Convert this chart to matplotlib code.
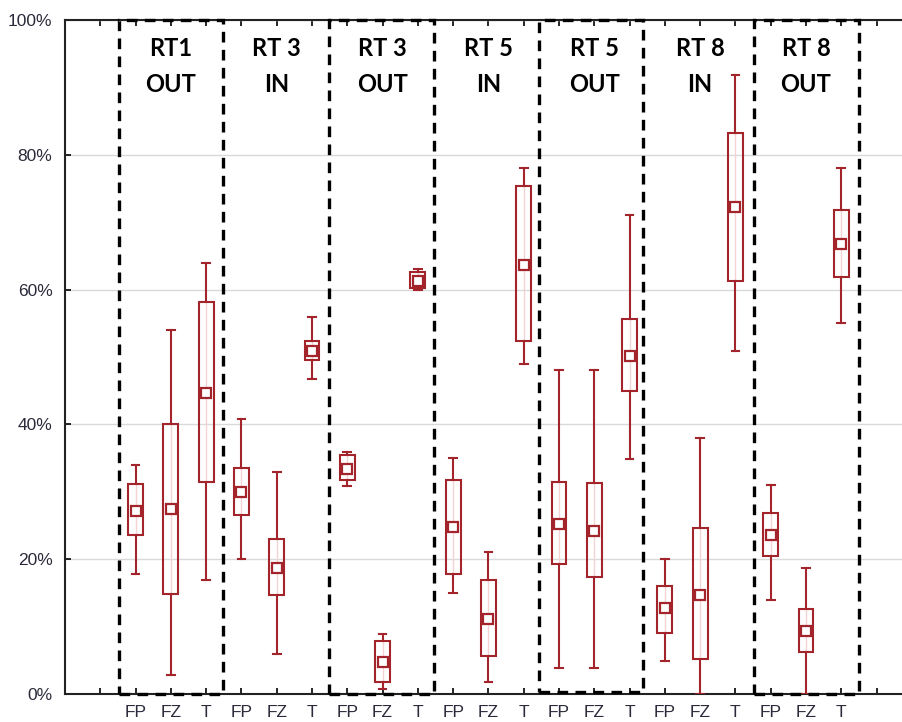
import matplotlib
matplotlib.use("Agg")
import matplotlib.pyplot as plt
from matplotlib.patches import Rectangle
from matplotlib.ticker import FuncFormatter

# ---- data ----
groups = ['RT1\nOUT', 'RT 3\nIN', 'RT 3\nOUT', 'RT 5\nIN', 'RT 5\nOUT', 'RT 8\nIN', 'RT 8\nOUT']
cats = ['FP', 'FZ', 'T'] * 7
whis_hi = [34.0, 54.0, 64.0, 40.8, 32.9, 56.0, 35.9, 8.9, 63.0, 35.0, 21.0, 78.0,
           48.0, 48.0, 71.0, 20.0, 38.0, 91.8, 31.0, 18.7, 78.0]
q3 = [31.2, 40.1, 58.2, 33.5, 23.0, 52.3, 35.5, 7.8, 62.6, 31.8, 16.9, 75.3,
      31.5, 31.3, 55.6, 16.0, 24.6, 83.2, 26.9, 12.6, 71.8]
means = [27.2, 27.4, 44.6, 29.9, 18.7, 50.9, 33.4, 4.7, 61.3, 24.8, 11.2, 63.6,
         25.2, 24.2, 50.1, 12.7, 14.7, 72.3, 23.6, 9.4, 66.7]
q1 = [23.6, 14.9, 31.4, 26.5, 14.7, 49.6, 31.7, 1.8, 60.2, 17.8, 5.6, 52.3,
      19.3, 17.4, 44.9, 9.1, 5.2, 61.3, 20.5, 6.2, 61.9]
whis_lo = [17.8, 2.8, 16.9, 20.0, 5.9, 46.8, 30.9, 0.8, 60.0, 15.0, 1.8, 49.0,
           3.9, 3.9, 34.8, 4.9, 0.0, 50.9, 13.9, 0.0, 55.0]
tick_labels = [''] + cats + ['']
yticks = [0, 20, 40, 60, 80, 100]

RED = '#A3242A'
TXT = '#2a2a3a'

fig = plt.figure(figsize=(9.03, 7.22), dpi=100)
ax = fig.add_axes([65 / 903, 1 - 694 / 722, 1 - 65 / 903, (694 - 20) / 722])

positions = list(range(1, len(cats) + 1))
stats = []
for i in range(len(cats)):
    stats.append(dict(whislo=whis_lo[i], q1=q1[i], med=means[i], q3=q3[i],
                      whishi=whis_hi[i], mean=means[i], fliers=[]))

# faint center line inside boxes
for p, lo, hi in zip(positions, q1, q3):
    ax.plot([p, p], [lo, hi], color='#F3D3D3', lw=1.0, zorder=2)

ax.bxp(stats, positions=positions, widths=0.42, showmeans=True, showfliers=False,
       patch_artist=True,
       boxprops=dict(facecolor='none', edgecolor=RED, linewidth=1.5),
       whiskerprops=dict(color=RED, linewidth=1.5),
       capprops=dict(color=RED, linewidth=1.5),
       medianprops=dict(linewidth=0),
       meanprops=dict(marker='s', markerfacecolor='white', markeredgecolor=RED,
                      markeredgewidth=1.6, markersize=7),
       capwidths=0.22, zorder=3)

# dashed rectangles for OUT groups
rects = [(0.54, 3.48, 0.0), (6.49, 9.47, 0.0), (12.42, 15.38, 0.3), (18.52, 21.5, 0.0)]
for x0, x1, y0 in rects:
    ax.add_patch(Rectangle((x0, y0), x1 - x0, 100 - y0, fill=False, edgecolor='black',
                           linewidth=2.4, linestyle=(0, (3.2, 2.2)), zorder=4,
                           clip_on=False))

# group labels
for gi, g in enumerate(groups):
    cx = 2 + 3 * gi
    top, bottom = g.split('\n')
    ax.text(cx, 95.8, top, ha='center', va='center', fontsize=17,
            fontweight='bold', family=['Lato', 'DejaVu Sans'], color='black')
    ax.text(cx, 90.5, bottom, ha='center', va='center', fontsize=17,
            fontweight='bold', family=['Lato', 'DejaVu Sans'], color='black')

ax.set_xlim(-1, 22.75)
ax.set_ylim(0, 100)
ax.set_xticks(range(0, 23))
ax.set_xticklabels(tick_labels, fontsize=12.5, family='Liberation Sans', color=TXT)
ax.set_yticks(yticks)
ax.yaxis.set_major_formatter(FuncFormatter(lambda v, p: f'{int(v)}%'))
for lab in ax.get_yticklabels():
    lab.set_fontsize(12.5)
    lab.set_family('Liberation Sans')
    lab.set_color(TXT)
ax.tick_params(axis='x', direction='in', top=True, length=4, width=1.2, pad=8)
ax.tick_params(axis='y', direction='in', length=4, width=1.2, pad=9)
ax.grid(axis='y', color='#D9D9D9', linewidth=1.0, zorder=0)
ax.set_axisbelow(True)
for s in ['left', 'bottom', 'top']:
    ax.spines[s].set_linewidth(1.5)
    ax.spines[s].set_color('#222222')
ax.spines['right'].set_visible(False)

fig.savefig('out.png', dpi=100)
